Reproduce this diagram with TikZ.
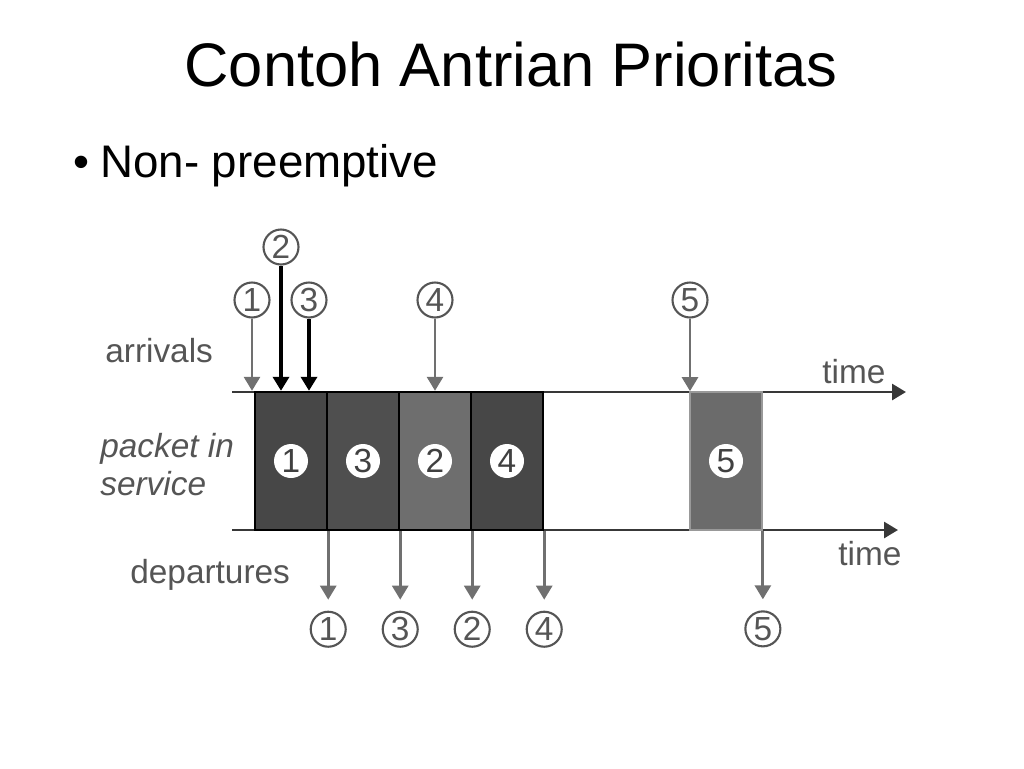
\documentclass[tikz,border=0pt]{standalone}
\usepackage{fontspec}
\setmainfont{Liberation Sans}
\usepackage{xcolor}
\usepackage{tikz}
\usetikzlibrary{positioning, arrows.meta, calc}

\definecolor{numgray}{HTML}{555555}
\definecolor{labgray}{HTML}{555555}
\definecolor{arrgray}{HTML}{707070}
\definecolor{axgray}{HTML}{383838}

\begin{document}
\begin{tikzpicture}[x=0.02cm, y=-0.02cm,
          lbl/.style={font=\fontsize{19}{22}\selectfont, text=labgray, inner sep=0pt, anchor=base west},
          num/.style={draw=numgray, line width=1.2pt, circle, minimum size=0.7cm, inner sep=0pt, font=\fontsize{19}{21}\selectfont, text=numgray},
          inum/.style={fill=white, circle, minimum size=0.68cm, inner sep=0pt, font=\fontsize{19}{21}\selectfont, text=black!75},
          pkt/.style={draw=black, line width=1.4pt, fill=#1, minimum width=1.44cm, minimum height=2.76cm, inner sep=0pt},
          arr/.style={-{Triangle[length=2.8mm, width=3.2mm]}, line width=1.6pt, draw=arrgray, arrgray},
          barr/.style={-{Triangle[length=2.8mm, width=3.2mm]}, line width=2.8pt, draw=black},
          axis/.style={-{Triangle[length=2.8mm, width=3.2mm]}, line width=1.6pt, draw=axgray},
        ]
        \useasboundingbox (0,0) rectangle (1024,768);
        \node[font=\fontsize{35}{42}\selectfont, anchor=base] (title) at (511,86) {Contoh Antrian Prioritas};
        \node[font=\fontsize{26}{31}\selectfont, anchor=base west, inner sep=0pt] (bul) at (73,177) {•};
        \node[font=\fontsize{26}{31}\selectfont, anchor=base west, inner sep=0pt] (sub) at (100,177) {Non- preemptive};
        % time axes
        \coordinate (ts) at (232,392);
        \coordinate (te) at (906,392);
        \coordinate (bs) at (232,530);
        \coordinate (be) at (898,530);
        \draw[axis] (ts) -- (te);
        \draw[axis] (bs) -- (be);
        % packets in service
        \node[pkt=black!72] (b1) at (291,461) {};
        \node[pkt=black!69] (b3) at (363,461) {};
        \node[pkt=black!57] (b2) at (435,461) {};
        \node[pkt=black!72] (b4) at (507,461) {};
        \node[pkt=black!58, draw=black!40, line width=1pt] (b5) at (726,461) {};
        \node[inum] (p1) at (b1.center) {1};
        \node[inum] (p3) at (b3.center) {3};
        \node[inum] (p2) at (b2.center) {2};
        \node[inum] (p4) at (b4.center) {4};
        \node[inum] (p5) at (b5.center) {5};
        % arrivals
        \node[num] (a1) at (252,300) {1};
        \node[num] (a2) at (281,247) {2};
        \node[num] (a3) at (309,300) {3};
        \node[num] (a4) at (435,300) {4};
        \node[num] (a5) at (690,300) {5};
        \draw[arr] (a1) -- (a1 |- b1.north);
        \draw[barr] (a2) -- (a2 |- b1.north);
        \draw[barr] (a3) -- (a3 |- b1.north);
        \draw[arr] (a4) -- (a4 |- b2.north);
        \draw[arr] (a5) -- (a5 |- b5.north);
        % departures
        \node[num] (d1) at ($(b1.south east)+(0,98)$) {1};
        \node[num] (d3) at ($(b3.south east)+(0,98)$) {3};
        \node[num] (d2) at ($(b2.south east)+(0,98)$) {2};
        \node[num] (d4) at ($(b4.south east)+(0,98)$) {4};
        \node[num] (d5) at ($(b5.south east)+(0,98)$) {5};
        \foreach \k in {1,3,2,4,5}
          \draw[arr, shorten >=0.22cm] (b\k.south east) -- (d\k);
        % labels
        \node[lbl] (arrv) at (105,362) {arrivals};
        \node[lbl, font=\fontsize{19}{22}\selectfont\itshape] (pin) at (100,457) {packet in};
        \node[lbl, font=\fontsize{19}{22}\selectfont\itshape] (serv) at (100,495) {service};
        \node[lbl] (dep) at (130,583) {departures};
        \node[lbl] (tt) at (822,383) {time};
        \node[lbl] (tb) at (838,565) {time};
        \end{tikzpicture}
\end{document}
